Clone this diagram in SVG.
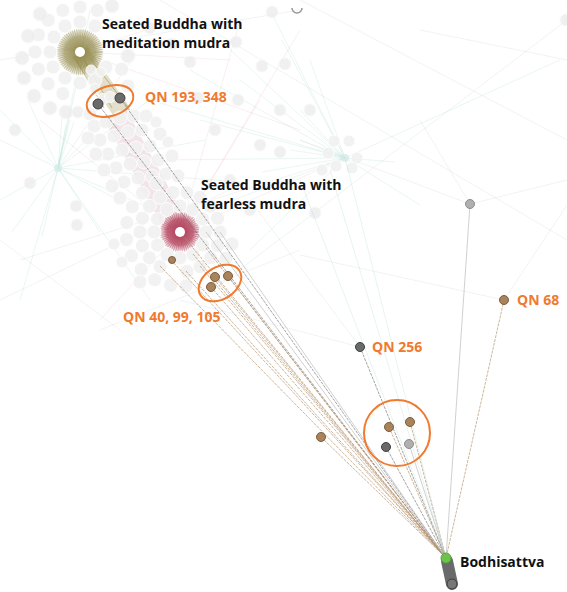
<svg xmlns="http://www.w3.org/2000/svg" width="567" height="592" viewBox="0 0 567 592">
<style>
.bg{fill:#f1f1f1;stroke:#ffffff;stroke-width:1;opacity:.9}
.bg2{fill:#ececec;stroke:#f7f7f7;stroke-width:1;opacity:.75}
.teal{stroke:#6fc4b0;stroke-width:.7;opacity:.22;fill:none}
.faint{stroke:#b8c4c8;stroke-width:.6;opacity:.35;fill:none}
.pink{stroke:#e08aa0;stroke-width:.6;opacity:.25;fill:none}
.br{stroke:#b08a62;stroke-width:.9;opacity:.7;fill:none;stroke-dasharray:3 1}
.gr{stroke:#6e6e6e;stroke-width:.9;opacity:.7;fill:none;stroke-dasharray:3 1}
.lg{stroke:#b9b9b9;stroke-width:.9;opacity:.75;fill:none}
.lt{stroke:#a9d6cf;stroke-width:.7;opacity:.4;fill:none}
.nb{fill:#a8835c;stroke:#7d5d3c;stroke-width:1}
.nd{fill:#6a6a6a;stroke:#3f3f3f;stroke-width:1}
.nl{fill:#b0b0b0;stroke:#8c8c8c;stroke-width:1}
.ann{fill:none;stroke:#f07a2e;stroke-width:2}
.lab{font-family:"Open Sans","Liberation Sans",sans-serif;font-weight:700;font-size:14px;fill:#111}
.ql{font-family:"Open Sans","Liberation Sans",sans-serif;font-weight:700;font-size:14px;fill:#f07a2e}
</style>
<defs>
<radialGradient id="gOl"><stop offset="0" stop-color="#7f7530" stop-opacity=".85"/><stop offset=".7" stop-color="#93894a" stop-opacity=".6"/><stop offset="1" stop-color="#b3ab78" stop-opacity=".15"/></radialGradient>
<radialGradient id="gCr"><stop offset="0" stop-color="#a0223f" stop-opacity=".9"/><stop offset=".7" stop-color="#b23c58" stop-opacity=".7"/><stop offset="1" stop-color="#d08a9a" stop-opacity=".15"/></radialGradient>
</defs>
<rect width="567" height="592" fill="#ffffff"/>

<g id="background-edges">
<path class="teal" d="M58 168L0 140M58 168L0 200M58 168L12 232M58 168L42 236M58 168L100 232M58 168L130 62M58 168L160 92M58 168L205 140M58 168L240 182M58 168L82 60M58 168L28 100M58 168L104 122M58 168L122 202M58 168L150 300M58 168L20 300M58 168L90 10M58 168L0 110M58 168L200 230M58 168L66 125M58 168L70 120M58 168L62 118M58 168L74 122"/>
<path class="teal" d="M345 158L200 120M345 158L150 100M345 158L240 80M345 158L282 40M345 158L262 172M345 158L228 202M345 158L160 160M345 158L300 110M345 158L395 162M345 158L560 60M345 158L420 205M345 158L270 10M345 158L220 40M345 158L310 60M345 158L190 70M345 158L250 250M345 158L300 140M345 158L290 150"/>
<path class="faint" d="M0 60L300 10M160 0L567 240M300 0L567 140M200 300L567 20M420 30L567 60M20 260L345 158M0 300L250 180M100 330L300 250M470 204L567 180M470 204L300 140M504 300L300 255M504 300L567 205M470 204L420 120M360 347L180 300M360 347L250 200M0 240L120 330"/>
<path class="pink" d="M180 232L345 158M180 232L300 30M180 232L40 120M180 232L260 100M80 52L175 20M180 232L240 20M80 52L300 130M80 52L230 60M180 232L100 320"/>
</g>

<g id="clusters">
<path d="M80 52L122 112" stroke="#9c9048" stroke-width="18" opacity=".28"/>
<path d="M84 60L112 108M76 60L104 108M90 58L130 110" stroke="#8a7d2c" stroke-width="1" opacity=".45"/>
<path d="M116 116L176 226" stroke="#c98894" stroke-width="24" opacity=".22"/>
<circle cx="80" cy="52" r="22" fill="url(#gOl)"/>
<circle cx="80" cy="52" r="14" fill="none" stroke="#877c38" stroke-width="18" stroke-dasharray=".8 .6" opacity=".35"/>
<circle cx="180" cy="232" r="19" fill="url(#gCr)"/>
<circle cx="180" cy="232" r="12" fill="none" stroke="#a62a48" stroke-width="16" stroke-dasharray=".8 .6" opacity=".35"/>

<g>
<circle class="bg" cx="106" cy="67" r="7"/><circle class="bg" cx="95" cy="80" r="7"/><circle class="bg" cx="80" cy="83" r="7"/><circle class="bg" cx="65" cy="78" r="7"/><circle class="bg" cx="53" cy="67" r="7"/><circle class="bg" cx="50" cy="52" r="7"/><circle class="bg" cx="54" cy="37" r="7"/><circle class="bg" cx="65" cy="26" r="7"/><circle class="bg" cx="80" cy="22" r="7"/><circle class="bg" cx="95" cy="26" r="7"/>
<circle class="bg" cx="121.6" cy="69.2" r="7"/><circle class="bg" cx="62.8" cy="93.6" r="7"/><circle class="bg" cx="48.2" cy="83.8" r="7"/><circle class="bg" cx="38.4" cy="69.2" r="7"/><circle class="bg" cx="35" cy="52" r="7"/><circle class="bg" cx="38.4" cy="34.8" r="7"/><circle class="bg" cx="48.2" cy="20.2" r="7"/><circle class="bg" cx="62.8" cy="10.4" r="7"/><circle class="bg" cx="80" cy="7" r="7"/><circle class="bg" cx="97.2" cy="10.4" r="7"/>
<circle class="bg" cx="91" cy="70" r="5"/><circle class="bg" cx="101" cy="72" r="5"/>
<circle class="bg" cx="95" cy="89" r="5.5"/><circle class="bg" cx="103" cy="99" r="5.5"/><circle class="bg" cx="110" cy="97" r="5.5"/>
<circle class="bg2" cx="24" cy="78" r="7"/><circle class="bg2" cx="22" cy="58" r="7"/><circle class="bg2" cx="28" cy="36" r="7"/><circle class="bg2" cx="34" cy="96" r="7"/><circle class="bg2" cx="50" cy="108" r="7"/><circle class="bg2" cx="66" cy="112" r="7"/><circle class="bg2" cx="40" cy="14" r="7"/><circle class="bg2" cx="112" cy="6" r="7"/><circle class="bg2" cx="128" cy="56" r="7"/><circle class="bg2" cx="78" cy="112" r="6"/>
<circle class="bg" cx="90" cy="114" r="7"/><circle class="bg" cx="128" cy="86" r="7"/><circle class="bg" cx="94" cy="126" r="7"/><circle class="bg" cx="106" cy="122" r="7"/><circle class="bg" cx="120" cy="118" r="7"/><circle class="bg" cx="134" cy="116" r="7"/><circle class="bg" cx="100" cy="140" r="7"/><circle class="bg" cx="114" cy="136" r="7"/><circle class="bg" cx="128" cy="132" r="7"/><circle class="bg" cx="142" cy="130" r="7"/><circle class="bg" cx="108" cy="154" r="7"/><circle class="bg" cx="122" cy="150" r="7"/><circle class="bg" cx="136" cy="148" r="7"/><circle class="bg" cx="150" cy="146" r="7"/><circle class="bg" cx="116" cy="168" r="7"/><circle class="bg" cx="130" cy="164" r="7"/><circle class="bg" cx="144" cy="162" r="7"/><circle class="bg" cx="158" cy="160" r="7"/><circle class="bg" cx="124" cy="182" r="7"/><circle class="bg" cx="138" cy="178" r="7"/><circle class="bg" cx="152" cy="176" r="7"/><circle class="bg" cx="166" cy="174" r="7"/><circle class="bg" cx="112" cy="186" r="7"/><circle class="bg" cx="104" cy="170" r="7"/><circle class="bg" cx="96" cy="154" r="7"/><circle class="bg" cx="88" cy="138" r="7"/><circle class="bg" cx="120" cy="198" r="7"/><circle class="bg" cx="146" cy="116" r="7"/><circle class="bg" cx="160" cy="134" r="7"/><circle class="bg" cx="172" cy="156" r="7"/><circle class="bg" cx="178" cy="176" r="7"/><circle class="bg" cx="156" cy="122" r="6"/><circle class="bg" cx="168" cy="142" r="6"/>
<circle class="bg" cx="206" cy="232" r="7"/><circle class="bg" cx="202.5" cy="245" r="7"/><circle class="bg" cx="193" cy="254.5" r="7"/><circle class="bg" cx="180" cy="258" r="7"/><circle class="bg" cx="167" cy="254.5" r="7"/><circle class="bg" cx="157.5" cy="245" r="7"/><circle class="bg" cx="154" cy="232" r="7"/><circle class="bg" cx="157.5" cy="219" r="7"/><circle class="bg" cx="167" cy="209.5" r="7"/><circle class="bg" cx="180" cy="206" r="7"/><circle class="bg" cx="193" cy="209.5" r="7"/><circle class="bg" cx="202.5" cy="219" r="7"/>
<circle class="bg" cx="220" cy="232" r="7"/><circle class="bg" cx="217.6" cy="245.7" r="7"/><circle class="bg" cx="210.6" cy="257.7" r="7"/><circle class="bg" cx="200" cy="266.6" r="7"/><circle class="bg" cx="186.9" cy="271.4" r="7"/><circle class="bg" cx="160" cy="266.6" r="7"/><circle class="bg" cx="149.4" cy="257.7" r="7"/><circle class="bg" cx="142.4" cy="245.7" r="7"/><circle class="bg" cx="140" cy="232" r="7"/><circle class="bg" cx="142.4" cy="218.3" r="7"/><circle class="bg" cx="149.4" cy="206.3" r="7"/><circle class="bg" cx="160" cy="197.4" r="7"/><circle class="bg" cx="173.1" cy="192.6" r="7"/><circle class="bg" cx="186.9" cy="192.6" r="7"/><circle class="bg" cx="200" cy="197.4" r="7"/><circle class="bg" cx="210.6" cy="206.3" r="7"/><circle class="bg" cx="217.6" cy="218.3" r="7"/>
<circle class="bg" cx="170.6" cy="285.2" r="7"/><circle class="bg" cx="154.7" cy="279.7" r="7"/><circle class="bg" cx="141.2" cy="269.5" r="7"/><circle class="bg" cx="131.5" cy="255.7" r="7"/><circle class="bg" cx="126.5" cy="239.5" r="7"/><circle class="bg" cx="126.8" cy="222.6" r="7"/><circle class="bg" cx="132.3" cy="206.7" r="7"/><circle class="bg" cx="142.5" cy="193.2" r="7"/><circle class="bg" cx="156.3" cy="183.5" r="7"/><circle class="bg" cx="186" cy="286" r="7"/><circle class="bg" cx="140" cy="282" r="7"/><circle class="bg" cx="226" cy="258" r="7"/><circle class="bg" cx="232" cy="244" r="7"/><circle class="bg" cx="122" cy="262" r="6"/><circle class="bg" cx="114" cy="244" r="6"/>
</g>
<g>
<circle class="bg2" cx="15" cy="130" r="6"/><circle class="bg2" cx="30" cy="183" r="6"/><circle class="bg2" cx="76" cy="206" r="6"/><circle class="bg2" cx="77" cy="225" r="6"/><circle class="bg2" cx="150" cy="28" r="6"/><circle class="bg2" cx="172" cy="44" r="6"/><circle class="bg2" cx="190" cy="62" r="6"/><circle class="bg2" cx="236" cy="42" r="6"/><circle class="bg2" cx="238" cy="100" r="6"/><circle class="bg2" cx="272" cy="12" r="6"/><circle class="bg2" cx="262" cy="66" r="6"/><circle class="bg2" cx="285" cy="64" r="6"/><circle class="bg2" cx="280" cy="110" r="6"/><circle class="bg2" cx="310" cy="110" r="6"/><circle class="bg2" cx="260" cy="145" r="6"/><circle class="bg2" cx="280" cy="152" r="6"/><circle class="bg2" cx="230" cy="180" r="6"/><circle class="bg2" cx="215" cy="130" r="6"/><circle class="bg2" cx="198" cy="98" r="6"/><circle class="bg2" cx="250" cy="210" r="6"/><circle class="bg2" cx="566" cy="20" r="6"/><circle class="bg2" cx="315" cy="213" r="6"/>
<circle class="bg" cx="334" cy="141" r="6"/><circle class="bg" cx="349" cy="141" r="6"/><circle class="bg" cx="328" cy="153" r="6"/><circle class="bg" cx="357" cy="158" r="6"/><circle class="bg" cx="336" cy="166" r="6"/><circle class="bg" cx="352" cy="168" r="6"/><circle class="bg" cx="322" cy="170" r="6"/>
<circle cx="58" cy="168" r="4" fill="#d5ece6" opacity=".8"/>
<circle cx="345" cy="158" r="4" fill="#d5ece6" opacity=".8"/>
</g>
<path d="M292 8a5 5 0 0 0 10 0" fill="none" stroke="#999" stroke-width="1.5"/>
</g>

<g id="edges">
<path class="gr" d="M98 104L446 558M120 98L446 558M360 347L446 558M386 447L446 558"/>
<path class="br" d="M215 277L446 558M228 276L446 558M211 287L446 558M171 260L446 558M200 266L446 558M186 271L446 558M193 254L446 558M206 248L446 558M321 437L446 558M389 427L446 558M410 422L446 558M504 300L446 558M180 232L446 558M160 266L446 558"/>
<path class="lg" d="M470 204L446 558M409 444L446 558M206 232L446 558M220 232L446 558"/>
<path class="lt" d="M345 158L446 558M300 180L446 558M330 170L446 558"/>
</g>

<g id="meditation-hub"><circle cx="80" cy="52" r="5" fill="#ffffff"/>
<text class="lab" x="102" y="29">Seated Buddha with</text><text class="lab" x="102" y="48">meditation mudra</text></g>
<g id="fearless-hub"><circle cx="180" cy="232" r="5" fill="#ffffff"/>
<text class="lab" x="201" y="190">Seated Buddha with</text><text class="lab" x="201" y="209">fearless mudra</text></g>
<g id="brown-small"><circle class="nb" cx="172" cy="260" r="3.5"/></g>
<g id="qn193"><circle class="nd" cx="98" cy="104" r="5"/><circle class="nd" cx="120" cy="98" r="5"/>
<ellipse class="ann" cx="110" cy="101" rx="24" ry="15" transform="rotate(-18 110 101)"/>
<text class="ql" x="145" y="102">QN 193, 348</text></g>
<g id="qn40"><circle class="nb" cx="215" cy="277" r="4.5"/><circle class="nb" cx="228" cy="276" r="4.5"/><circle class="nb" cx="211" cy="287" r="4.5"/>
<ellipse class="ann" cx="220" cy="283" rx="23" ry="16" transform="rotate(-32 220 283)"/>
<text class="ql" x="123" y="322">QN 40, 99, 105</text></g>
<g id="qn256"><circle class="nd" cx="360" cy="347" r="4.5"/><text class="ql" x="372" y="352">QN 256</text></g>
<g id="qn68"><circle class="nb" cx="504" cy="300" r="4.5"/><text class="ql" x="517" y="305">QN 68</text></g>
<g id="gray-top"><circle class="nl" cx="470" cy="204" r="4.5"/></g>
<g id="brown-321"><circle class="nb" cx="321" cy="437" r="4.5"/></g>
<g id="group-circle"><circle class="nb" cx="389" cy="427" r="4.5"/><circle class="nb" cx="410" cy="422" r="4.5"/><circle class="nd" cx="386" cy="447" r="4.5"/><circle class="nl" cx="409" cy="444" r="4.5"/>
<circle class="ann" cx="397" cy="433" r="33"/></g>
<g id="bodhisattva">
<path d="M447 561L452 584" stroke="#6a6a6a" stroke-width="12" stroke-linecap="round"/>
<circle cx="452" cy="584" r="5" fill="#777" stroke="#3e3e3e" stroke-width="1"/>
<circle cx="446" cy="558" r="5" fill="#6cc24a" stroke="#58a83a" stroke-width="1"/>
<text class="lab" x="460" y="567">Bodhisattva</text></g>
</svg>
